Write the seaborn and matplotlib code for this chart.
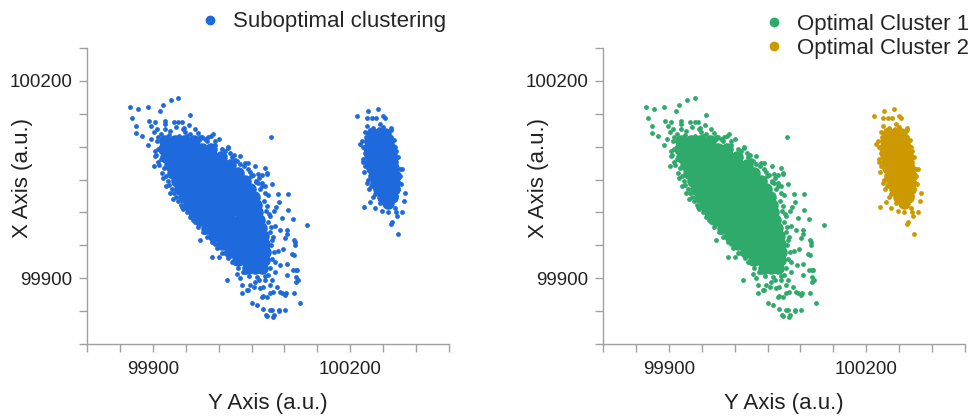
import matplotlib
matplotlib.use("Agg")
import matplotlib.pyplot as plt
import seaborn as sns
import pandas as pd
from matplotlib.ticker import MultipleLocator
from matplotlib.lines import Line2D

# ---------------- data ----------------
# Cluster 1: scattered / fringe points
c1_x = [99866, 99877, 99892, 99915, 99928, 99939, 99869, 99875, 99875, 99883,
        99894, 99898, 99902, 99911, 99957, 99932, 99939, 99944, 99906, 99918,
        99946, 99964, 99892, 99902, 99920, 99931, 100079, 99988, 100000, 100014,
        100023, 100040, 100044, 100060, 100073, 100057, 100081, 100105, 100092, 100087,
        100105, 100113, 100084, 100135, 100114, 100116, 100093, 100104, 100098, 100114,
        100104, 100113, 100118, 100118, 100118, 100115, 100103, 100096, 100083, 100124,
        100101, 100092, 100084, 100073, 100078, 100066, 100073, 100050, 100058, 100035,
        100044, 100013, 100053, 100068, 100088, 100081, 99990, 100000, 100028, 99972,
        100078, 100086, 100081, 100090, 100071, 100078, 100094, 100086, 100063, 100048,
        100101, 100097, 100075, 100066, 100071, 100056, 100033, 100014, 99995, 99972,
        99949, 99926, 99907, 99903, 99908, 99916, 99926, 99945, 99961, 99979,
        99995, 100010, 100025, 100040, 100033, 100055, 99904, 99918, 99919, 99947,
        99952, 99903, 99908, 99897, 99975, 99984, 99991, 100025, 100049, 100066,
        100074, 100090, 100071, 100060, 100116, 100120, 100104, 100112, 100104, 100101,
        100093, 100078, 100067, 100043, 100035, 100068, 100072, 100081, 100083, 100091,
        100119, 99972, 99983, 100005, 100021, 100033, 100048, 100057, 100063, 100069,
        100072, 100075, 100078, 100080, 100081, 100078, 99908, 99913, 99917, 99923,
        99929, 99935, 99943, 99952, 99964, 99976, 99990, 100005, 100021, 100037,
        99925, 99940, 99957, 99968, 99980, 99935, 99955, 99912, 99995, 100010,
        100018, 100028, 100038, 100045, 100052, 100062, 100066, 100070, 100074, 100077,
        100080, 100083, 100084, 100085, 99905, 99910, 99914, 99920, 99925, 99932,
        99938, 99946, 99956, 99968, 99982, 99998, 100015, 100030, 100046, 100062,
        100070, 100058, 100075]
c1_y = [100160, 100158, 100161, 100163, 100171, 100174, 100144, 100131, 100121, 100117,
        100139, 100132, 100122, 100155, 100148, 100138, 100138, 100138, 100127, 100127,
        100127, 100127, 100103, 100070, 100040, 100020, 100115, 100117, 100112, 100099,
        100088, 100075, 100075, 100059, 100059, 100046, 100043, 100028, 100016, 100008,
        100004, 99990, 100003, 99981, 99958, 99950, 99973, 99973, 99945, 99935,
        99922, 99913, 99913, 99902, 99894, 99878, 99878, 99878, 99879, 99862,
        99852, 99850, 99844, 99842, 99852, 99872, 99872, 99863, 99859, 99877,
        99882, 99897, 99887, 99887, 99887, 99897, 99932, 99932, 99907, 99958,
        99995, 99980, 99958, 99942, 99897, 99889, 99920, 99909, 99885, 99889,
        99961, 99991, 100026, 100045, 100067, 100071, 100086, 100098, 100109, 100115,
        100123, 100124, 100109, 100094, 100076, 100052, 100030, 100009, 99988, 99970,
        99952, 99938, 99923, 99909, 99900, 99894, 100137, 100139, 100134, 100128,
        100117, 100086, 100114, 100112, 100114, 100114, 100119, 100080, 100055, 100057,
        100060, 100028, 100041, 100045, 99955, 99898, 99968, 99937, 99905, 99874,
        99879, 99877, 99873, 99882, 99889, 99854, 99844, 99852, 99841, 99852,
        99912, 100112, 100108, 100097, 100085, 100074, 100061, 100048, 100036, 100018,
        100003, 99985, 99970, 99950, 99930, 99915, 100097, 100082, 100067, 100048,
        100036, 100024, 100012, 100000, 99985, 99970, 99955, 99939, 99924, 99909,
        100118, 100116, 100119, 100121, 100111, 100130, 100133, 100119, 100102, 100093,
        100090, 100079, 100070, 100066, 100057, 100052, 100040, 100030, 100010, 99998,
        99978, 99962, 99940, 99925, 100088, 100072, 100060, 100055, 100042, 100030,
        100018, 100005, 99993, 99978, 99962, 99946, 99931, 99916, 99903, 99898,
        99903, 99902, 99905]

# Cluster 1: saturated core, read row by row (row y value, x positions)
core1_rows_y = [100108, 100096, 100084, 100072, 100060, 100048, 100036, 100024, 100012,
                100000, 99988, 99976, 99964, 99952, 99940, 99928, 99916]
core1_rows_x = [
    [99918, 99933, 99948, 99963],
    [99917, 99931, 99946, 99960, 99975, 99989],
    [99920, 99934, 99948, 99962, 99976, 99990, 100004],
    [99926, 99939, 99952, 99965, 99979, 99992, 100005, 100018],
    [99931, 99945, 99959, 99973, 99988, 100002, 100016, 100030],
    [99936, 99951, 99966, 99981, 99995, 100010, 100025, 100040],
    [99941, 99954, 99968, 99981, 99994, 100007, 100021, 100034, 100047],
    [99947, 99962, 99977, 99992, 100008, 100023, 100038, 100053],
    [99955, 99970, 99984, 99999, 100013, 100028, 100042, 100057],
    [99963, 99977, 99990, 100004, 100018, 100032, 100045, 100059],
    [99972, 99987, 100002, 100017, 100032, 100047, 100062],
    [99982, 99996, 100010, 100024, 100037, 100051, 100065],
    [99993, 100008, 100023, 100037, 100052, 100067],
    [100005, 100018, 100031, 100043, 100056, 100069],
    [100017, 100030, 100044, 100057, 100070],
    [100029, 100042, 100056, 100069],
    [100044, 100055, 100066],
]

# Cluster 2: scattered / fringe points
c2_x = [100211, 100227, 100242, 100226, 100233, 100239, 100253, 100262, 100218, 100215,
        100220, 100231, 100278, 100277, 100283, 100281, 100221, 100238, 100248, 100258,
        100270, 100278, 100263, 100273, 100234, 100229, 100266, 100268, 100223, 100225,
        100235, 100245, 100256, 100250, 100230, 100262, 100271, 100268, 100222, 100221,
        100226, 100268, 100272, 100275, 100273, 100262, 100258, 100245,
        100224, 100220, 100219, 100223, 100227, 100232, 100238, 100245, 100262, 100270,
        100274, 100276, 100270, 100266, 100262, 100243, 100230, 100250]
c2_y = [100147, 100155, 100158, 100144, 100144, 100144, 100144, 100128, 100108, 100104,
        100076, 100053, 100066, 100044, 100029, 100018, 100008, 100007, 100003, 100000,
        100000, 100000, 99985, 99967, 100023, 100036, 100096, 100074, 100122, 100132,
        100129, 100134, 100124, 100147, 100016, 99983, 99994, 100007, 100090, 100062,
        100045, 100100, 100085, 100055, 100035, 100115, 100012, 100015,
        100115, 100100, 100082, 100070, 100050, 100040, 100028, 100020, 100020, 100025,
        100045, 100066, 100093, 100110, 100125, 100127, 100126, 100130]

# Cluster 2: saturated core
core2_rows_y = [100120, 100109, 100098, 100088, 100077, 100067, 100056, 100045, 100035,
                100024, 100015]
core2_rows_x = [
    [100233, 100244, 100253],
    [100230, 100239, 100248, 100257],
    [100228, 100239, 100249, 100260],
    [100230, 100241, 100251, 100262],
    [100232, 100242, 100253, 100264],
    [100233, 100244, 100255, 100265],
    [100236, 100247, 100258, 100268],
    [100239, 100248, 100258, 100267],
    [100244, 100256, 100267],
    [100250, 100264],
    [100258],
]

x_ticks = [99900, 100200]
y_ticks = [99900, 100200]
x_label = "Y Axis (a.u.)"
y_label = "X Axis (a.u.)"
label_sub = "Suboptimal clustering"
label_c1 = "Optimal Cluster 1"
label_c2 = "Optimal Cluster 2"


def expand(rows_y, rows_x):
    xs, ys = [], []
    for yv, xr in zip(rows_y, rows_x):
        xs.extend(xr)
        ys.extend([yv] * len(xr))
    return pd.DataFrame({"x": xs, "y": ys})


df_c1 = pd.DataFrame({"x": c1_x, "y": c1_y})
df_c2 = pd.DataFrame({"x": c2_x, "y": c2_y})
df_core1 = expand(core1_rows_y, core1_rows_x)
df_core2 = expand(core2_rows_y, core2_rows_x)

# ---------------- style ----------------
sns.set_theme(style="ticks")
plt.rcParams['font.family'] = ['Liberation Sans', 'DejaVu Sans']

BLUE = "#1e69dc"
GREEN = "#2eaa6a"
GOLD = "#cc9a00"
SPINE = "#a0a0a0"
TXT = "#222222"

fig = plt.figure(figsize=(9.72, 4.17), dpi=100)
ax1 = fig.add_axes([0.0895, 0.175, 0.3724, 0.7098])
ax2 = fig.add_axes([0.6204, 0.175, 0.3724, 0.7098])

CORE_S = 82
PT_S = 12


def draw(ax, col1, col2):
    sns.scatterplot(data=df_core1, x="x", y="y", ax=ax, color=col1, s=CORE_S,
                    linewidth=0, legend=False)
    sns.scatterplot(data=df_core2, x="x", y="y", ax=ax, color=col2, s=CORE_S,
                    linewidth=0, legend=False)
    sns.scatterplot(data=df_c1, x="x", y="y", ax=ax, color=col1, s=PT_S,
                    linewidth=0, legend=False)
    sns.scatterplot(data=df_c2, x="x", y="y", ax=ax, color=col2, s=PT_S,
                    linewidth=0, legend=False)
    ax.set_xlim(99800, 100350)
    ax.set_ylim(99800, 100250)
    ax.set_xticks(x_ticks)
    ax.set_yticks(y_ticks)
    ax.xaxis.set_minor_locator(MultipleLocator(50))
    ax.yaxis.set_minor_locator(MultipleLocator(50))
    ax.tick_params(which="both", direction="out", length=5.5, width=1,
                   color=SPINE, labelsize=13.5, labelcolor=TXT)
    ax.tick_params(axis="y", which="both", pad=5)
    ax.tick_params(axis="x", which="both", pad=7)
    for s in ["top", "right"]:
        ax.spines[s].set_visible(False)
    for s in ["left", "bottom"]:
        ax.spines[s].set_color(SPINE)
        ax.spines[s].set_linewidth(1)
    ax.set_xlabel(x_label, fontsize=16, color=TXT)
    ax.set_ylabel(y_label, fontsize=16, color=TXT)
    ax.xaxis.set_label_coords(0.5, -0.165)
    ax.yaxis.set_label_coords(-0.15, 0.5625)


draw(ax1, BLUE, BLUE)
draw(ax2, GREEN, GOLD)

h_sub = [Line2D([], [], marker="o", ls="", color=BLUE, markersize=6)]
ax1.legend(h_sub, [label_sub], loc="center right", bbox_to_anchor=(0.992, 1.088),
           frameon=False, fontsize=16, borderaxespad=0, borderpad=0,
           handlelength=0.8, handletextpad=0.65)

h_opt = [Line2D([], [], marker="o", ls="", color=GREEN, markersize=6),
         Line2D([], [], marker="o", ls="", color=GOLD, markersize=6)]
ax2.legend(h_opt, [label_c1, label_c2], loc="center right", bbox_to_anchor=(1.011, 1.04),
           frameon=False, fontsize=16, borderaxespad=0, borderpad=0,
           handlelength=0.8, handletextpad=0.65, labelspacing=0.15)

fig.savefig("out.png", dpi=100)
